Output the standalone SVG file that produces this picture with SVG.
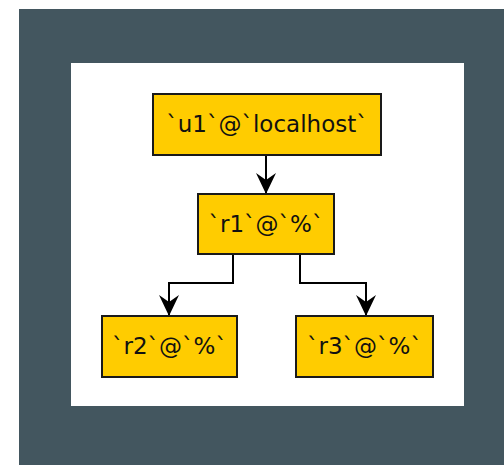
<svg xmlns="http://www.w3.org/2000/svg" width="504" height="465" viewBox="0 0 504 465">
<style>
.node rect{fill:#ffcc00;stroke:#1a1a1a;stroke-width:2}
.node text{font-family:"DejaVu Sans",sans-serif;font-size:23px;fill:#111;text-anchor:middle}
.edge{fill:none;stroke:#000;stroke-width:2;marker-end:url(#ah)}
</style>
<defs>
<marker id="ah" viewBox="-22 -11 23 22" refX="0" refY="0" markerWidth="23" markerHeight="22" markerUnits="userSpaceOnUse" orient="auto">
<path d="M0,0 L-21,-10 L-14,0 L-21,10 Z" fill="#000"/>
</marker>
</defs>
<rect x="19" y="9" width="485" height="456" fill="#43565f"/>
<rect x="71" y="63" width="393" height="343" fill="#ffffff"/>
<g id="connectors">
<path class="edge" d="M266,155 L266,194"/>
<path class="edge" d="M233,254 L233,283 L169,283 L169,316"/>
<path class="edge" d="M300,254 L300,283 L366,283 L366,316"/>
</g>
<g id="u1" class="node"><rect x="153" y="94" width="228" height="61"/><text x="267" y="132">`u1`@`localhost`</text></g>
<g id="r1" class="node"><rect x="198" y="194" width="136" height="60"/><text x="266" y="232">`r1`@`%`</text></g>
<g id="r2" class="node"><rect x="102" y="316" width="135" height="61"/><text x="169.5" y="354">`r2`@`%`</text></g>
<g id="r3" class="node"><rect x="296" y="316" width="137" height="61"/><text x="364.5" y="354">`r3`@`%`</text></g>
</svg>
